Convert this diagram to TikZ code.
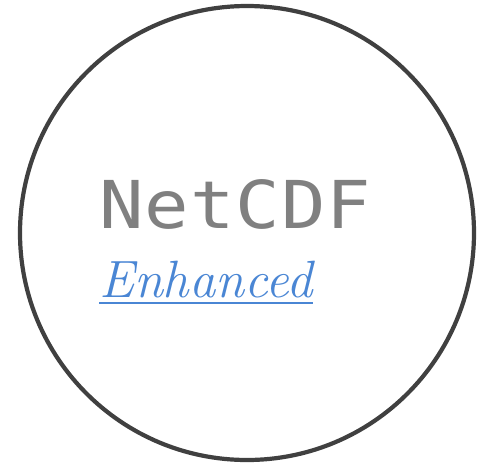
\documentclass[tikz,border=0pt]{standalone}
\usepackage{fontspec}
\newfontfamily\monofont[FakeStretch=1.12,LetterSpace=1.5]{DejaVu Sans Mono}
\definecolor{ringgray}{HTML}{404040}
\definecolor{textgray}{HTML}{808080}
\definecolor{linkblue}{HTML}{4A86D4}
\begin{document}
\begin{tikzpicture}[x=1pt,y=-1pt,
  ring/.style={draw=ringgray,line width=4.2pt},
  titletext/.style={inner sep=0pt,anchor=base west,text=textgray,font=\monofont\fontsize{66}{70}\selectfont},
  linktext/.style={inner sep=0pt,anchor=base west,text=linkblue,font=\itshape\fontsize{52.5}{56}\selectfont}]
\useasboundingbox (0,0) rectangle (477,464);
\node[ring,circle,minimum size=454pt,inner sep=0pt] (ring) at (247,233) {};
\node[titletext] (title) at (99,228) {NetCDF};
\node[linktext] (link) at (99,297) {Enhanced};
\draw[linkblue,line width=1.4pt] (link.base west) ++(0,6) coordinate (u1) -- (link.base east |- u1);
\end{tikzpicture}
\end{document}
